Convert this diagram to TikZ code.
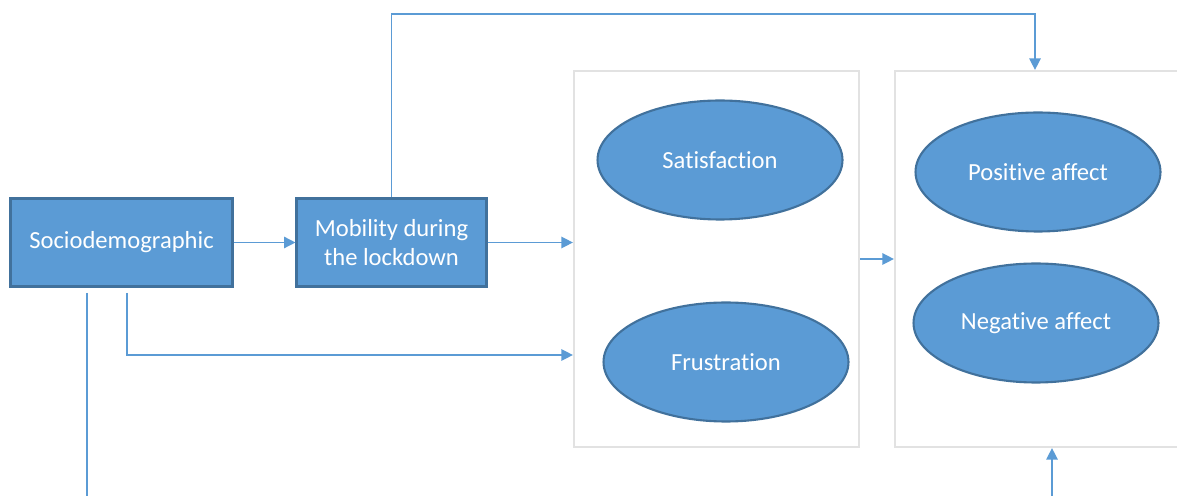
\documentclass[tikz,border=0pt]{standalone}
\usepackage{fontspec}
\setmainfont{Carlito}[Ligatures=NoCommon]
\usetikzlibrary{arrows.meta,shapes.geometric}
\definecolor{fillb}{HTML}{5B9BD5}
\definecolor{edgeb}{HTML}{41719C}
\definecolor{framec}{HTML}{E2E2E2}
\begin{document}
\begin{tikzpicture}[x=0.02cm,y=-0.02cm,
  lbl/.style={text=white, font=\fontsize{14}{17}\selectfont, align=center, inner sep=0pt},
  box/.style={lbl, draw=edgeb, fill=fillb, line width=1.2pt},
  ell/.style={lbl, ellipse, draw=edgeb, fill=fillb, line width=1.2pt, minimum width=4.9cm, minimum height=2.38cm},
  frm/.style={draw=framec, line width=1.3pt, inner sep=0pt},
  conn/.style={draw=fillb, line width=0.8pt},
  arr/.style={conn, -{Triangle[length=6.5pt,width=6.5pt]}}]
\useasboundingbox (0,0) rectangle (1177,496);
\clip (0,0) rectangle (1177,496);
% containers
\node[frm, minimum width=5.70cm, minimum height=7.52cm] (left) at (716.5,259) {};
\node[frm, minimum width=6.1cm, minimum height=7.52cm] (right) at (1047.5,259) {};
% boxes
\node[box, minimum width=4.44cm, minimum height=1.76cm] (socio) at (121.5,242.5) {Sociodemographic};
\node[box, minimum width=3.80cm, minimum height=1.76cm] (mob) at (391.5,242.5) {Mobility during\\the lockdown};
% ellipses
\node[ell] (sat) at (720,160) {Satisfaction};
\node[ell] (fru) at (726,362) {Frustration};
\node[ell] (pos) at (1038,172) {Positive affect};
\node[ell] (neg) at (1036,323) {Negative affect};
% connectors
\coordinate (tr) at (1035,14);
\coordinate (s1) at (127,355);
\coordinate (bot) at (87,500);
\coordinate (bot2) at (1052,500);
\draw[arr] (socio.east) -- (mob.west);
\draw[arr] (mob.east) -- (mob.east -| left.west);
\draw[arr] (left.east) -- (right.west);
\draw[arr] (mob.north) |- (tr) -- (tr |- right.north);
\draw[arr] ([yshift=-3pt]socio.south -| s1) |- (left.west |- s1);
\draw[conn] ([yshift=-3pt]socio.south -| bot) -- (bot);
\draw[arr] (bot2) -- (bot2 |- right.south);
\end{tikzpicture}
\end{document}
